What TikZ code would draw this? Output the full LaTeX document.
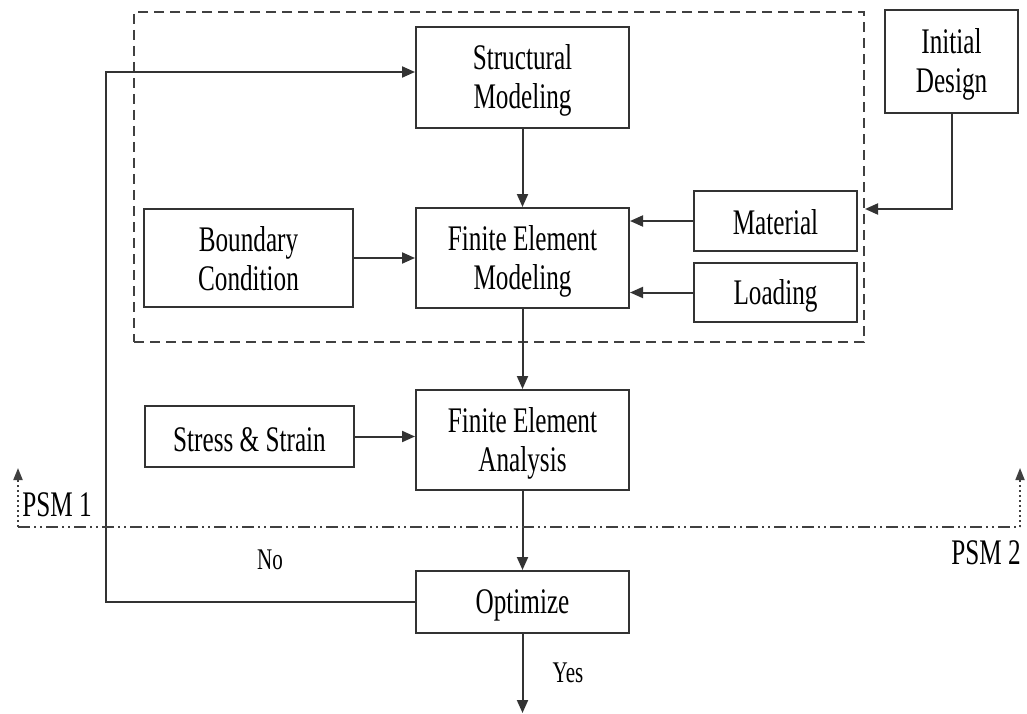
\documentclass[tikz,border=0pt]{standalone}
\usepackage{fontspec}
\setmainfont[FakeStretch=0.7]{Liberation Serif}
\usetikzlibrary{arrows.meta}
\begin{document}
\begin{tikzpicture}[x=1pt,y=-1pt,
  box/.style={draw=black!80, line width=2pt, inner sep=0pt},
  txt/.style={inner sep=0pt, align=center, yshift=-3pt, font=\fontsize{36}{39}\selectfont},
  lbl/.style={inner sep=0pt, font=\fontsize{36}{39}\selectfont},
  slbl/.style={inner sep=0pt, font=\fontsize{30}{32}\selectfont},
  conn/.style={line width=2pt, draw=black!80, -{Triangle[length=13pt,width=11pt]}},
  dashbox/.style={draw=black!75, line width=2pt, dash pattern=on 10pt off 6pt, inner sep=0pt},
  psmline/.style={draw=black!75, line width=2pt, dash pattern=on 12pt off 4pt on 2pt off 4pt on 2pt off 4pt},
  psmup/.style={draw=black!75, line width=1.8pt, dash pattern=on 2pt off 3pt, -{Triangle[length=12pt,width=9pt]}}]
\useasboundingbox (0,0) rectangle (1027,714);
\fill[white] (0,0) rectangle (1027,714);

\node[dashbox, minimum width=730pt, minimum height=330pt] (grp) at (499,177) {};

\node[box, minimum width=213pt, minimum height=101pt, label={[txt]center:Structural\\Modeling}] (sm) at (522.5,77.5) {};
\node[box, minimum width=133pt, minimum height=103pt, label={[txt]center:Initial\\Design}] (init) at (951.5,61.5) {};
\node[box, minimum width=209pt, minimum height=98pt, label={[txt, yshift=2pt]center:Boundary\\Condition}] (bc) at (248.5,258) {};
\node[box, minimum width=213pt, minimum height=100pt, label={[txt]center:Finite Element\\Modeling}] (fem) at (522.5,258) {};
\node[box, minimum width=163pt, minimum height=60pt, label={[txt, yshift=2pt]center:Material}] (mat) at (775.5,221) {};
\node[box, minimum width=163pt, minimum height=59pt, label={[txt]center:Loading}] (load) at (775.5,292.5) {};
\node[box, minimum width=213pt, minimum height=100pt, label={[txt]center:Finite Element\\Analysis}] (fea) at (522.5,440) {};
\node[box, minimum width=209pt, minimum height=61pt, label={[txt]center:Stress \& Strain}] (ss) at (249.5,436.5) {};
\node[box, minimum width=213pt, minimum height=62pt, label={[txt]center:Optimize}] (opt) at (522.5,602) {};

\coordinate (fb) at (106,72);
\coordinate (mi) at (0,209);
\coordinate (endc) at (522.5,713);
\coordinate (pl) at (18,527);
\coordinate (pr) at (1020,527);
\coordinate (plt) at (18,468);
\coordinate (prt) at (1020,468);

\draw[conn] (opt.west) -| (fb) -- (sm.west |- fb);
\draw[conn] (sm.south) -- (fem.north);
\draw[conn] (bc.east) -- (fem.west);
\draw[conn] (mat.west) -- (fem.east |- mat.west);
\draw[conn] (load.west) -- (fem.east |- load.west);
\draw[conn] (init.south) |- (grp.east |- mi);
\draw[conn] (fem.south) -- (fea.north);
\draw[conn] (ss.east) -- (fea.west |- ss.east);
\draw[conn] (fea.south) -- (opt.north);
\draw[conn] (opt.south) -- (endc);

\draw[psmline] (pl) -- (pr);
\draw[psmup] (pl) -- (plt);
\draw[psmup] (pr) -- (prt);

\node[lbl] (psm1) at (57,505) {PSM 1};
\node[lbl] (psm2) at (986,553) {PSM 2};
\node[slbl] (no) at (270,560) {No};
\node[slbl] (yes) at (568,673) {Yes};
\end{tikzpicture}
\end{document}
